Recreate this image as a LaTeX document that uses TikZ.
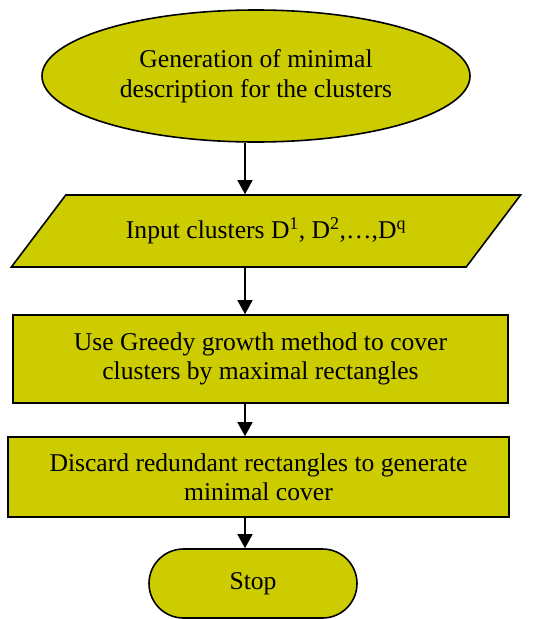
\documentclass[tikz,border=0pt]{standalone}
\usepackage{fontspec}
\setmainfont{Liberation Serif}
\usetikzlibrary{arrows.meta,positioning,shapes.geometric,shapes.misc}
\definecolor{boxfill}{HTML}{CCCC00}

\begin{document}
\begin{tikzpicture}[x=1pt, y=1pt, node distance=120pt, on grid,
    every node/.style={font=\fontsize{25.6}{29.5}\selectfont, align=center},
    stepnode/.style={draw, line width=1.6pt, fill=boxfill, inner sep=0pt},
    flow/.style={-{Triangle[length=14pt, width=15pt]}, line width=1.4pt}]
  \useasboundingbox (0,0) rectangle (544,-619);
  \node[stepnode, ellipse, minimum width=428pt, minimum height=132pt] (gen) at (256,-76)
    {Generation of minimal\\description for the clusters};
  \node[stepnode, trapezium, trapezium left angle=34.7, trapezium right angle=145.3,
    trapezium stretches=true, minimum width=512pt, minimum height=72pt,
    below=155pt of gen, xshift=10pt] (inp)
    {Input clusters D\textsuperscript{1}, D\textsuperscript{2},\dots,D\textsuperscript{q}};
  \node[stepnode, rectangle, minimum width=495pt, minimum height=88pt,
    below=128pt of inp, xshift=-5.5pt] (grow)
    {Use Greedy growth method to cover\\clusters by maximal rectangles};
  \node[stepnode, rectangle, minimum width=501pt, minimum height=80pt,
    below=118pt of grow, xshift=-2pt] (disc)
    {Discard redundant rectangles to generate\\minimal cover};
  \node[stepnode, rounded rectangle, minimum width=208pt, minimum height=69pt,
    below=106.5pt of disc, xshift=-5.5pt] (stop) {Stop};
  % arrows all run down one vertical line
  \coordinate (spine) at (245,0);
  \draw[flow] (spine |- gen.south) -- (spine |- inp.north);
  \draw[flow] (spine |- inp.south) -- (spine |- grow.north);
  \draw[flow] (spine |- grow.south) -- (spine |- disc.north);
  \draw[flow] (spine |- disc.south) -- (spine |- stop.north);
\end{tikzpicture}
\end{document}
